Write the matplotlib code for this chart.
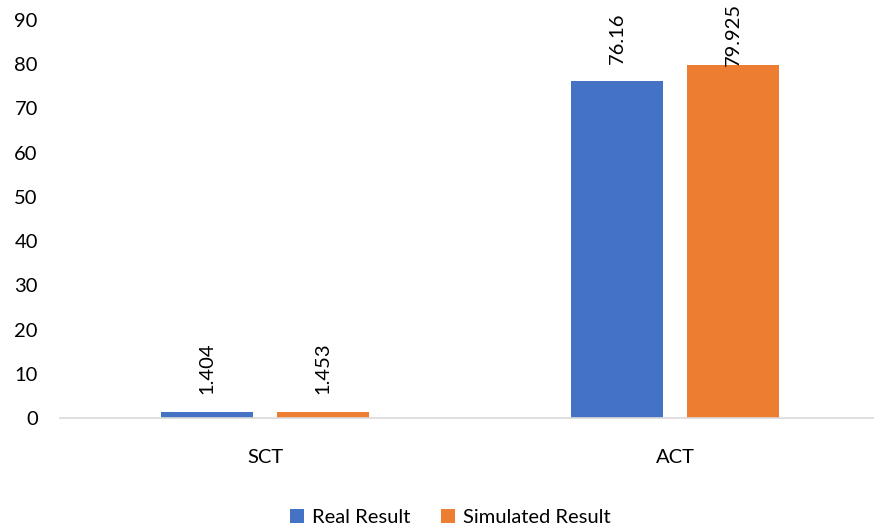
import matplotlib.pyplot as plt
import matplotlib.transforms as mtransforms
import numpy as np

# chart data
categories = ['SCT', 'ACT']
real_result = [1.404, 76.16]
simulated_result = [1.453, 79.925]
real_labels = ['1.404', '76.16']
simulated_labels = ['1.453', '79.925']

plt.rcParams['font.family'] = ['Lato', 'DejaVu Sans']
fs = 14.5

fig = plt.figure(figsize=(8.74, 5.29), dpi=100)
ax = fig.add_axes([60 / 874, 111 / 529, 814 / 874, 398 / 529])

x = np.arange(len(categories))
w = 0.224
off = 0.142

b1 = ax.bar(x - off, real_result, w, color='#4472C4', label='Real Result')
b2 = ax.bar(x + off, simulated_result, w, color='#ED7D31', label='Simulated Result')

ax.set_xlim(-0.5, 1.485)
ax.set_ylim(0, 90)

fig.canvas.draw()
r = fig.canvas.get_renderer()
top_px = fig.bbox.height - 3
blend = mtransforms.blended_transform_factory(ax.transData, fig.transFigure)
for bars, labs in [(b1, real_labels), (b2, simulated_labels)]:
    for b, t in zip(bars, labs):
        cx = b.get_x() + b.get_width() / 2
        txt = ax.annotate(t, (cx, b.get_height()), xytext=(0, 12.5),
                          textcoords='offset points', ha='center', va='bottom',
                          rotation=90, fontsize=fs)
        # labels that would leave the chart are pushed back inside, as Excel does
        if txt.get_window_extent(r).y1 > top_px:
            txt.remove()
            ax.annotate(t, (cx, top_px / fig.bbox.height), xycoords=blend,
                        ha='center', va='top', rotation=90, fontsize=fs)

ax.set_yticks(range(0, 91, 10))
ax.set_xticks(x)
ax.set_xticklabels(categories)
ax.tick_params(axis='both', length=0, labelsize=fs)
ax.tick_params(axis='x', pad=22)
ax.tick_params(axis='y', pad=16)

for s in ['top', 'right', 'left']:
    ax.spines[s].set_visible(False)
ax.spines['bottom'].set_color('#D9D9D9')
ax.spines['bottom'].set_linewidth(1.2)

fig.legend(loc='center', bbox_to_anchor=(0.515, 0.022), ncol=2, frameon=False,
           fontsize=fs, handlelength=0.7, handleheight=0.7, columnspacing=1.5,
           handletextpad=0.4)

plt.savefig('out.png', dpi=100)
